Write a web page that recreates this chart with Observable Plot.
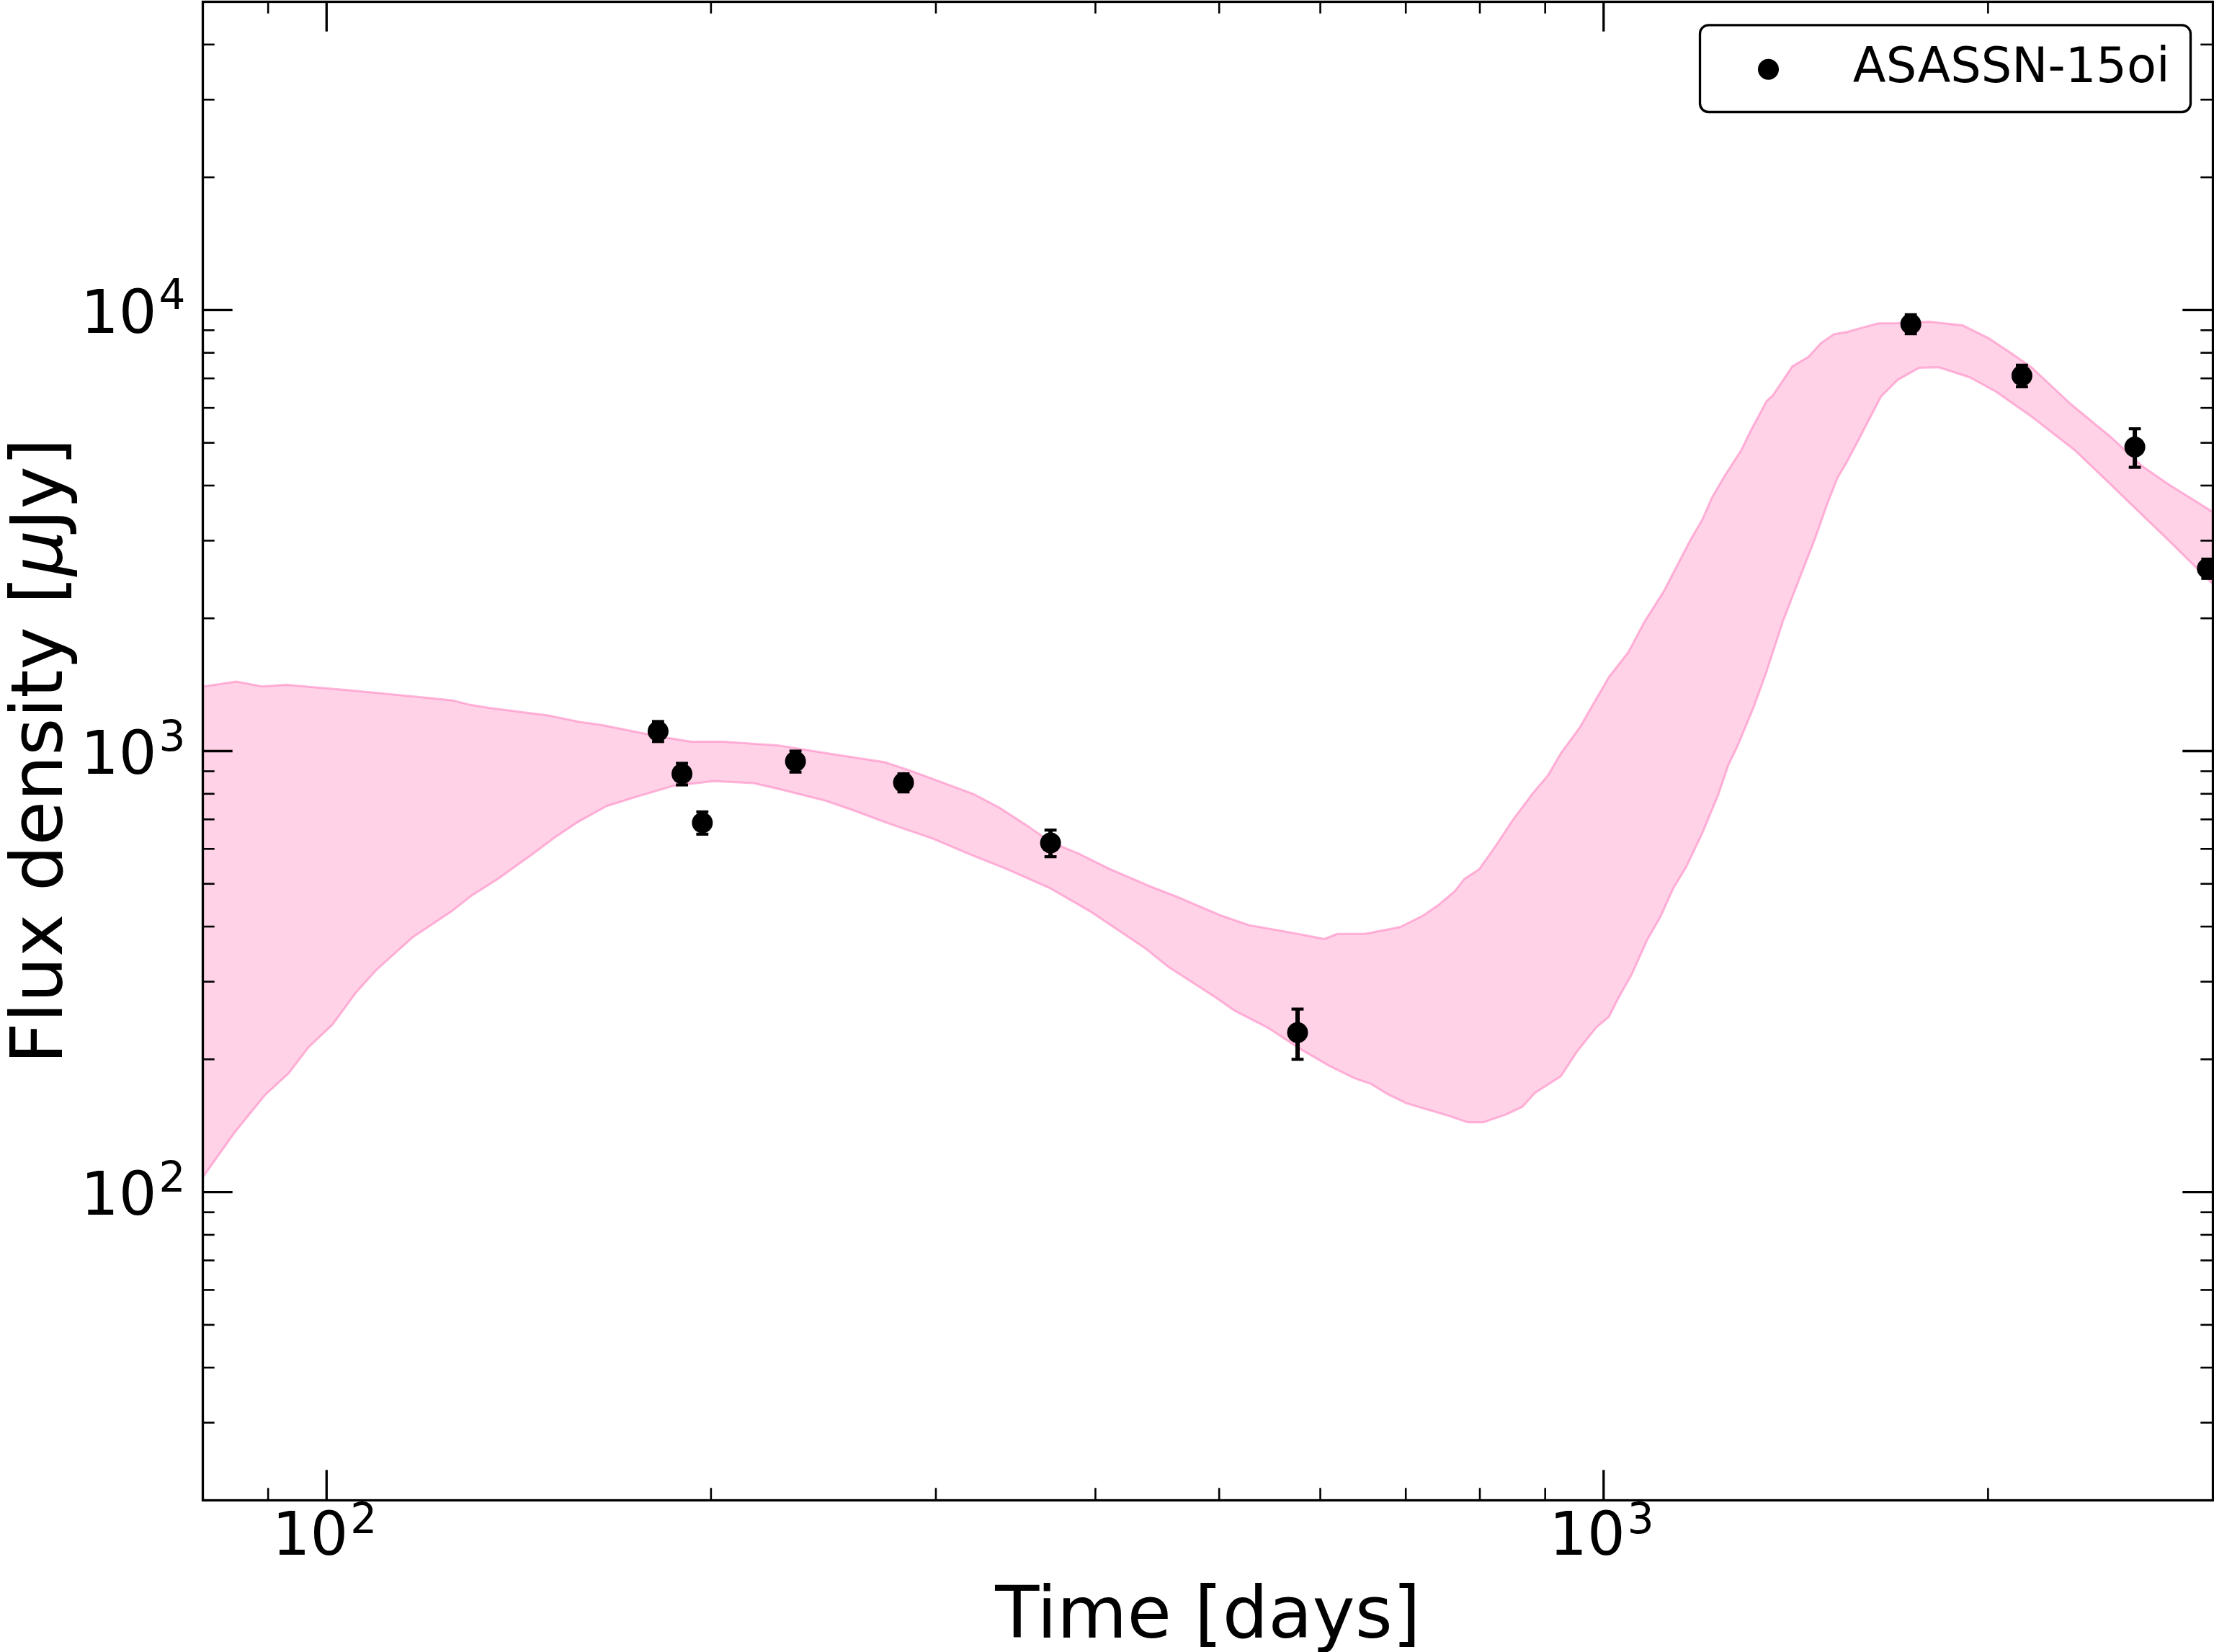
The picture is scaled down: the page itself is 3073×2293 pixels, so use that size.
<!DOCTYPE html>
<html>
<head>
<meta charset="utf-8">
<script src="https://cdn.jsdelivr.net/npm/d3@7"></script>
<script src="https://cdn.jsdelivr.net/npm/@observablehq/plot@0.6"></script>
<style>
  html, body { margin: 0; padding: 0; background: #fff; }
  #chart svg { display: block; }
</style>
</head>
<body>
<div id="chart"></div>
<script>
// ASASSN-15oi: observed flux densities with the model envelope (log–log light curve)

// Observations: time since discovery [days], flux density [µJy], 1σ error [µJy]
const obsTime = [181.8, 189.8, 196.9, 232.9, 283.0, 368.9, 575.9, 1740, 2126, 2606, 2970];
const obsFlux = [1109, 888, 688, 948, 848, 619, 230, 9300, 7100, 4890, 2594];
const obsErr  = [58, 50, 40, 52, 40, 43, 30, 460, 400, 490, 130];

// Model envelope, upper edge
const bandUpperTime = [80, 85.0, 89.1, 93.0, 104.1, 115.9, 125.4, 129.6, 134.0, 149.1, 158.2, 164.5, 181.9, 193.0, 204.8, 225.9, 249.5, 273.8, 284.9, 302.5, 321.0, 336.2, 354.6, 368.9, 388.8, 410.1, 441.0, 462.2, 500.3, 527.7, 571.1, 604.4, 618.6, 649.9, 692.8, 721.5, 742.6, 764.5, 778.0, 798.7, 819.7, 848.7, 878.6, 904.7, 925.7, 958.5, 977.9, 1009.8, 1045.6, 1076.4, 1114.5, 1140.6, 1167.5, 1194.6, 1215.8, 1244.4, 1280.9, 1303.2, 1341.7, 1356.8, 1405.2, 1446.9, 1480.1, 1515.2, 1551.0, 1585.7, 1641.6, 1692.1, 1798.0, 1909.9, 2003, 2073.6, 2165.3, 2320.6, 2498.1, 2642.6, 2759.8, 3000];
const bandUpperFlux = [1400, 1438, 1401, 1414, 1374, 1334, 1304, 1273, 1253, 1205, 1163, 1145, 1080, 1050, 1050, 1030, 983, 943, 908, 852, 799, 745, 674, 622, 584, 541, 494, 469, 425, 403, 387, 375, 385, 385, 399, 423, 448, 481, 513, 539, 599, 697, 797, 882, 988, 1134, 1256, 1473, 1676, 1964, 2302, 2620, 2984, 3348, 3758, 4216, 4799, 5313, 6222, 6403, 7450, 7835, 8421, 8819, 8919, 9085, 9333, 9333, 9414, 9239, 8627, 8076, 7398, 6129, 5141, 4423, 4051, 3484];

// Model envelope, lower edge
const bandLowerTime = [80, 84.8, 89.5, 93.4, 96.8, 101.1, 105.5, 109.4, 116.9, 125.4, 129.6, 136.6, 145.1, 151.0, 157.0, 165.6, 174.7, 186.6, 200.7, 215.9, 225.9, 246.1, 257.9, 275.6, 298.4, 321.0, 340.5, 368.9, 396.8, 412.7, 438.2, 456.2, 497.1, 513.9, 545.6, 578.9, 610.4, 638.7, 657.2, 676.8, 700.8, 721.5, 755.7, 782.2, 805.4, 838.9, 863.5, 883.9, 925.7, 952.9, 986.6, 1009.8, 1027.4, 1051.7, 1082.2, 1107.9, 1134.1, 1160.6, 1194.6, 1229.9, 1251.7, 1273.0, 1311.0, 1341.7, 1381.3, 1413.6, 1463.7, 1497.5, 1524.2, 1551.0, 1585.7, 1648.8, 1699.4, 1766.9, 1829.3, 1935.2, 2029.3, 2165.3, 2341.0, 2466.0, 2608.6, 2771.8, 3000];
const bandLowerFlux = [108, 137, 166, 186, 213, 240, 284, 319, 379, 434, 468, 516, 585, 638, 688, 750, 787, 833, 855, 846, 821, 771, 736, 685, 633, 579, 541, 488, 432, 400, 356, 324, 276, 258, 236, 211, 193, 181, 176, 167, 159, 155, 149, 144, 144, 150, 156, 168, 183, 208, 236, 250, 276, 311, 374, 421, 489, 546, 651, 797, 927, 1026, 1260, 1516, 1964, 2335, 3027, 3651, 4156, 4532, 5116, 6364, 6949, 7398, 7418, 7038, 6527, 5721, 4799, 4154, 3550, 2998, 2391];

// Axis ticks
const xMajor = [100, 1000];
const xMinor = [90, 200, 300, 400, 500, 600, 700, 800, 900, 2000];
const yMajor = [100, 1000, 10000];
const yMinor = [20, 30, 40, 50, 60, 70, 80, 90, 200, 300, 400, 500, 600, 700, 800, 900,
                2000, 3000, 4000, 5000, 6000, 7000, 8000, 9000, 20000, 30000, 40000];

const xTitle = "Time [days]";
const yTitle = "Flux density [μJy]";
const legendLabel = "ASASSN-15oi";

// Layout
const W = 3073, H = 2293;
const margin = {top: 2, right: 2, bottom: 211, left: 281};
const frameW = W - margin.left - margin.right;
const frameH = H - margin.top - margin.bottom;
const lw = 3.3;                 // spine / major tick width
const majorLen = 41.7, minorLen = 16.7;
const tickFont = 83, expFont = 58, titleFont = 100, legendFont = 67;

const obs = obsTime.map((t, i) => ({t, flux: obsFlux[i], err: obsErr[i]}));

// closed outline: upper edge left→right, then lower edge right→left
const band = [
  ...bandUpperTime.map((t, i) => ({t, flux: bandUpperFlux[i]})),
  ...bandLowerTime.map((t, i) => ({t, flux: bandLowerFlux[i]})).reverse()
];

// horizontal bar used for error-bar caps
const capSymbol = {
  draw(context, size) {
    const r = Math.sqrt(size / Math.PI);
    context.moveTo(-r, 0);
    context.lineTo(r, 0);
  }
};

const exponent = d => String(Math.round(Math.log10(d)));

function inwardTicks(xs, ys, len, width) {
  return [
    Plot.ruleY(ys, {y: d => d, insetRight: frameW - len, stroke: "black", strokeWidth: width}),
    Plot.ruleY(ys, {y: d => d, insetLeft: frameW - len, stroke: "black", strokeWidth: width}),
    Plot.ruleX(xs, {x: d => d, insetTop: frameH - len, stroke: "black", strokeWidth: width}),
    Plot.ruleX(xs, {x: d => d, insetBottom: frameH - len, stroke: "black", strokeWidth: width})
  ];
}

const svg = Plot.plot({
  width: W,
  height: H,
  marginTop: margin.top,
  marginRight: margin.right,
  marginBottom: margin.bottom,
  marginLeft: margin.left,
  style: {fontFamily: "'DejaVu Sans', sans-serif", background: "white", color: "black"},
  x: {type: "log", domain: [80, 3000], axis: null},
  y: {type: "log", domain: [20, 50000], axis: null},
  marks: [
    // model envelope
    Plot.line(band, {
      x: "t", y: "flux",
      fill: "hotpink", fillOpacity: 0.3,
      stroke: "hotpink", strokeOpacity: 0.45, strokeWidth: 3,
      clip: true
    }),

    // error bars
    Plot.ruleX(obs, {x: "t", y1: d => d.flux - d.err, y2: d => d.flux + d.err,
                     stroke: "black", strokeWidth: 6, clip: true}),
    Plot.dot(obs, {x: "t", y: d => d.flux + d.err, symbol: capSymbol, r: 8.4,
                   fill: "none", stroke: "black", strokeWidth: 4.2, clip: true}),
    Plot.dot(obs, {x: "t", y: d => d.flux - d.err, symbol: capSymbol, r: 8.4,
                   fill: "none", stroke: "black", strokeWidth: 4.2, clip: true}),
    // observations
    Plot.dot(obs, {x: "t", y: "flux", r: 14.5, fill: "black", stroke: "none", clip: true}),

    // ticks on all four sides, pointing inward
    ...inwardTicks(xMinor, yMinor, minorLen, 2.6),
    ...inwardTicks(xMajor, yMajor, majorLen, lw),

    // y tick labels: 10 with a raised exponent
    Plot.text(yMajor, {y: d => d, frameAnchor: "left", text: () => "10",
                       textAnchor: "end", lineAnchor: "bottom", dx: -64, dy: 31.5,
                       fontSize: tickFont, fill: "black"}),
    Plot.text(yMajor, {y: d => d, frameAnchor: "left", text: exponent,
                       textAnchor: "start", lineAnchor: "bottom", dx: -61, dy: -1,
                       fontSize: expFont, fill: "black"}),

    // x tick labels
    Plot.text(xMajor, {x: d => d, frameAnchor: "bottom", text: () => "10",
                       textAnchor: "end", lineAnchor: "bottom", dx: 30, dy: 75.6,
                       fontSize: tickFont, fill: "black"}),
    Plot.text(xMajor, {x: d => d, frameAnchor: "bottom", text: exponent,
                       textAnchor: "start", lineAnchor: "bottom", dx: 33, dy: 45,
                       fontSize: expFont, fill: "black"}),

    // axis titles
    Plot.text([xTitle], {frameAnchor: "bottom", text: d => d, textAnchor: "middle",
                         lineAnchor: "bottom", dy: 190, fontSize: titleFont, fill: "black"}),
    Plot.text([yTitle], {frameAnchor: "left", text: d => d, rotate: -90, textAnchor: "middle",
                         lineAnchor: "bottom", dx: -196, fontSize: titleFont, fill: "black"}),

    // plot frame (spines)
    Plot.frame({stroke: "black", strokeWidth: lw}),

    // legend
    Plot.frame({stroke: "black", strokeWidth: lw, fill: "white", rx: 12,
                insetLeft: 2078, insetRight: 31, insetTop: 32.4, insetBottom: 1927}),
    Plot.dot([legendLabel], {frameAnchor: "top-right", dx: -617, dy: 93.7, r: 14.5,
                             fill: "black", stroke: "none"}),
    Plot.text([legendLabel], {frameAnchor: "top-right", text: d => d, textAnchor: "end",
                              lineAnchor: "bottom", dx: -60, dy: 111.7,
                              fontSize: legendFont, fill: "black"})
  ]
});

// italic µ in the y-axis title
d3.select(svg).selectAll("text")
  .filter(function() { return this.textContent === yTitle; })
  .each(function() {
    const el = d3.select(this);
    el.text(null);
    el.append("tspan").text("Flux density [");
    el.append("tspan").attr("font-style", "italic").text("μ");
    el.append("tspan").text("Jy]");
  });

document.getElementById("chart").appendChild(svg);
</script>
</body>
</html>
